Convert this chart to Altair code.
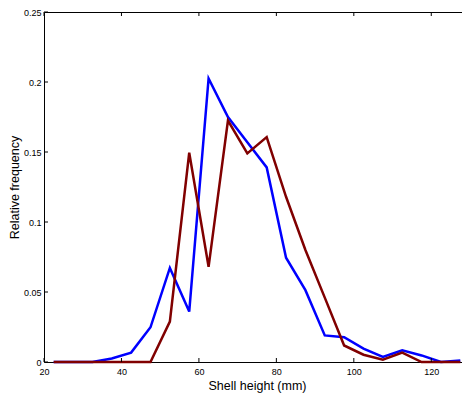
import altair as alt
import pandas as pd

# Bin centres (5 mm bins)
heights = [22.5, 27.5, 32.5, 37.5, 42.5, 47.5, 52.5, 57.5, 62.5, 67.5, 72.5,
           77.5, 82.5, 87.5, 92.5, 97.5, 102.5, 107.5, 112.5, 117.5, 122.5, 127.5]

freq_blue = [0.0, 0.0, 0.0, 0.0025, 0.0067, 0.0248, 0.0672, 0.036, 0.2025, 0.175, 0.157,
             0.139, 0.0745, 0.0513, 0.019, 0.0177, 0.0095, 0.0036, 0.0083, 0.0047, 0.0, 0.001]

freq_red = [0.0, 0.0, 0.0, 0.0, 0.0, 0.0, 0.0289, 0.1495, 0.068, 0.1725, 0.149,
            0.1606, 0.118, 0.08, 0.046, 0.0118, 0.0052, 0.0017, 0.0067, 0.0, 0.0, 0.0]

x_ticks = [20, 40, 60, 80, 100, 120]
y_ticks = [0, 0.05, 0.1, 0.15, 0.2, 0.25]

W, H = 426, 350
FONT = "Liberation Sans"
TICK = 4

blue_df = pd.DataFrame({"height": heights, "freq": freq_blue})
red_df = pd.DataFrame({"height": heights, "freq": freq_red})
# tick data uses the same field names so the layers share one axis
xt_df = pd.DataFrame({"height": x_ticks})
yt_df = pd.DataFrame({"freq": y_ticks})

x_scale = alt.Scale(domain=[20, 130], nice=False, zero=False)
y_scale = alt.Scale(domain=[0, 0.25], nice=False)

x_axis = alt.Axis(values=x_ticks, ticks=False, domain=False, grid=False,
                  labelFlush=False, labelPadding=5, titlePadding=3)
y_axis = alt.Axis(values=y_ticks, format="~g", ticks=False, domain=False, grid=False,
                  labelFlush=False, labelPadding=3, titlePadding=2)

x_enc = alt.X("height:Q", scale=x_scale, title="Shell height (mm)", axis=x_axis)
y_enc = alt.Y("freq:Q", scale=y_scale, title="Relative frequency", axis=y_axis)

blue_line = alt.Chart(blue_df).mark_line(color="#0000FF", strokeWidth=2.5).encode(x=x_enc, y=y_enc)
red_line = alt.Chart(red_df).mark_line(color="#800000", strokeWidth=2.5).encode(x=x_enc, y=y_enc)

# inward tick marks on all four sides (MATLAB style)
bottom_ticks = alt.Chart(xt_df).mark_rule(color="black", strokeWidth=1).encode(
    x=x_enc, y=alt.value(H), y2=alt.value(H - TICK))
top_ticks = alt.Chart(xt_df).mark_rule(color="black", strokeWidth=1).encode(
    x=x_enc, y=alt.value(0), y2=alt.value(TICK))
left_ticks = alt.Chart(yt_df).mark_rule(color="black", strokeWidth=1).encode(
    y=y_enc, x=alt.value(0), x2=alt.value(TICK))
right_ticks = alt.Chart(yt_df).mark_rule(color="black", strokeWidth=1).encode(
    y=y_enc, x=alt.value(W - TICK), x2=alt.value(W))

chart = (
    alt.layer(blue_line, red_line, bottom_ticks, top_ticks, left_ticks, right_ticks)
    .properties(
        width=W,
        height=H,
        autosize=alt.AutoSizeParams(type="none"),
        padding={"left": 36, "top": 4, "right": -8, "bottom": 32},
    )
    .configure_view(stroke="black", strokeWidth=1)
    .configure_axis(
        labelFont=FONT,
        labelFontSize=9,
        labelColor="black",
        titleFont=FONT,
        titleFontSize=12.5,
        titleFontWeight="normal",
        titleColor="black",
    )
)

chart.save("out.html", embed_options={"renderer": "svg", "actions": False})
